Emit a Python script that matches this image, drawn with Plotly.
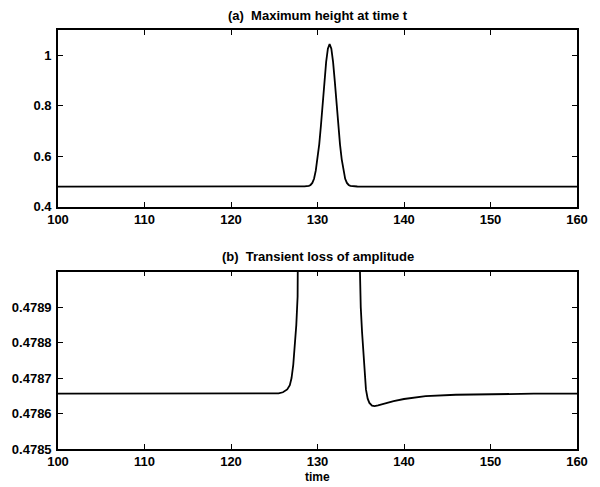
import plotly.graph_objects as go

# ---- data ----
time = [100, 105, 110, 115, 120, 123, 125, 125.5, 126.0, 126.5, 126.8, 127.0,
        127.2, 127.4, 127.55, 127.7, 127.85, 128.0, 128.2, 128.5,
        129.0, 129.2, 129.4, 129.6, 129.8, 130.0, 130.2, 130.4, 130.6, 130.8,
        131.0, 131.2, 131.4, 131.6, 131.8, 132.0, 132.2, 132.4, 132.6, 132.8,
        133.0, 133.2, 133.4, 133.6, 133.8, 134.0, 134.3, 134.6, 134.8, 134.9,
        135.0, 135.15, 135.4, 135.6, 135.8, 136.0, 136.3, 136.6, 137.0, 137.8,
        138.8, 140, 142.5, 146, 150, 155, 160]
height = [0.478656, 0.478656, 0.478656, 0.478656, 0.478656, 0.478656, 0.478656,
          0.478657, 0.478660, 0.478668, 0.478680, 0.478700,
          0.478738, 0.478790, 0.478850, 0.478930, 0.479010, 0.479120, 0.479400, 0.479960,
          0.4822, 0.4855, 0.4935, 0.510, 0.5420, 0.5871, 0.6467, 0.7222, 0.8086, 0.8965,
          0.9733, 1.026, 1.0447, 1.026, 0.9733, 0.8965, 0.8086, 0.7222, 0.6467, 0.5871,
          0.5420, 0.510, 0.4935, 0.4855, 0.4822, 0.4808, 0.47996, 0.47940, 0.47912, 0.47898,
          0.478900, 0.478830, 0.478738, 0.478668, 0.478642, 0.478630, 0.478622, 0.478621,
          0.478623, 0.478629, 0.478635, 0.478641, 0.478649, 0.478653, 0.478655,
          0.478656, 0.478656]

x_ticks = [100, 110, 120, 130, 140, 150, 160]
top_yticks = [0.4, 0.6, 0.8, 1.0]
top_ytext = ["0.4", "0.6", "0.8", "1"]
bot_yticks = [0.4785, 0.4786, 0.4787, 0.4788, 0.4789]
bot_ytext = ["0.4785", "0.4786", "0.4787", "0.4788", "0.4789"]
title_a = "(a)  Maximum height at time t"
title_b = "(b)  Transient loss of amplitude"
xlabel = "time"

fig = go.Figure()
line = dict(color="black", width=1.8)
fig.add_trace(go.Scatter(x=time, y=height, mode="lines", line=line,
                         xaxis="x", yaxis="y", showlegend=False))
fig.add_trace(go.Scatter(x=time, y=height, mode="lines", line=line,
                         xaxis="x2", yaxis="y2", showlegend=False))

FAM = "Liberation Sans, Arial, sans-serif"
font = dict(family=FAM, size=13, color="black", weight="bold")
xcommon = dict(showline=True, linecolor="black", linewidth=1.6, mirror="ticks",
               ticks="inside", ticklen=5, tickwidth=1.2, tickcolor="black",
               showgrid=False, zeroline=False, tickfont=font, ticklabelstandoff=0)
ycommon = dict(showline=True, linecolor="black", linewidth=1.6, mirror="ticks",
               ticks="inside", ticklen=5, tickwidth=1.2, tickcolor="black",
               showgrid=False, zeroline=False, tickfont=font, ticklabelstandoff=2)

fig.update_layout(
    width=600, height=487,
    margin=dict(l=58, r=12, t=30, b=38),
    paper_bgcolor="white", plot_bgcolor="white",
    font=font,
    xaxis=dict(domain=[0, 1], range=[100, 160], tickvals=x_ticks,
               anchor="y", **xcommon),
    yaxis=dict(domain=[0.5787, 1.0], range=[0.4, 1.1], tickvals=top_yticks,
               ticktext=top_ytext, anchor="x", **ycommon),
    xaxis2=dict(domain=[0, 1], range=[100, 160], tickvals=x_ticks,
                anchor="y2", **xcommon),
    yaxis2=dict(domain=[0, 0.4232], range=[0.4785, 0.4790], tickvals=bot_yticks,
                ticktext=bot_ytext, anchor="x2", **ycommon),
    annotations=[
        dict(text=title_a, x=0.5, y=1.0, xref="paper", yref="paper",
             xanchor="center", yanchor="bottom", yshift=5, showarrow=False,
             font=font),
        dict(text=title_b, x=0.5, y=0.4232, xref="paper", yref="paper",
             xanchor="center", yanchor="bottom", yshift=6, showarrow=False,
             font=font),
        dict(text=xlabel, x=0.5, y=0, xref="paper", yref="paper",
             xanchor="center", yanchor="top", yshift=-19, showarrow=False,
             font=dict(family=FAM, size=12, color="black", weight="bold")),
    ],
)

fig.write_html("out.html")
